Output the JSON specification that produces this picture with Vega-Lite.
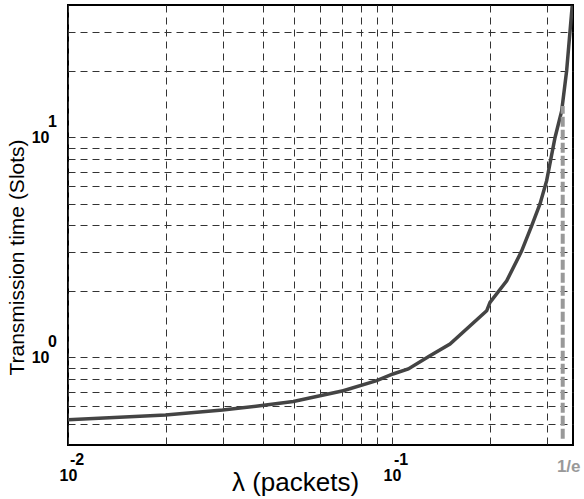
{
  "$schema": "https://vega.github.io/schema/vega-lite/v6.json",
  "autosize": "none",
  "width": 505,
  "height": 440,
  "padding": {"left": 68, "top": 5, "right": 11, "bottom": 54},
  "config": {
    "view": {"stroke": "#000000", "strokeWidth": 2},
    "font": "Liberation Sans",
    "axis": {
      "domain": false,
      "ticks": false,
      "tickSize": 0,
      "grid": true,
      "gridColor": "#333333",
      "gridOpacity": 1,
      "gridWidth": 1,
      "gridDash": [7, 5],
      "labelFont": "Liberation Sans",
      "labelFontWeight": "bold",
      "labelFontSize": 16,
      "labelColor": "#000000",
      "labelOverlap": false,
      "labelFlush": false,
      "labelBound": false,
      "titleFont": "Liberation Sans",
      "titleFontWeight": "normal",
      "titleColor": "#000000"
    }
  },
  "datasets": {
    "curve": [
      {"lambda": 0.01, "t": 0.521},
      {"lambda": 0.02, "t": 0.547},
      {"lambda": 0.03, "t": 0.577},
      {"lambda": 0.0391, "t": 0.603},
      {"lambda": 0.0496, "t": 0.631},
      {"lambda": 0.0707, "t": 0.706},
      {"lambda": 0.0897, "t": 0.784},
      {"lambda": 0.1007, "t": 0.841},
      {"lambda": 0.1123, "t": 0.886},
      {"lambda": 0.131, "t": 1.018},
      {"lambda": 0.151, "t": 1.15},
      {"lambda": 0.196, "t": 1.63},
      {"lambda": 0.2007, "t": 1.78},
      {"lambda": 0.226, "t": 2.23},
      {"lambda": 0.2514, "t": 3.05},
      {"lambda": 0.27, "t": 3.97},
      {"lambda": 0.2863, "t": 4.99},
      {"lambda": 0.3002, "t": 6.36},
      {"lambda": 0.3185, "t": 9.97},
      {"lambda": 0.334, "t": 13.2},
      {"lambda": 0.346, "t": 20.1},
      {"lambda": 0.36, "t": 39.7}
    ],
    "limit": [{"lambda": 0.3365, "t0": 0.427, "t1": 13.9, "label": "1/e", "tb": 0.4}],
    "xexp": [{"lambda": 0.01, "t": 0.4, "exp": "-2"}, {"lambda": 0.1, "t": 0.4, "exp": "-1"}],
    "yexp": [{"lambda": 0.01, "t": 1, "exp": "0"}, {"lambda": 0.01, "t": 10, "exp": "1"}]
  },
  "layer": [
    {
      "data": {"name": "curve"},
      "mark": {"type": "line", "color": "#444444", "strokeWidth": 3.5, "clip": true},
      "encoding": {
        "x": {
          "field": "lambda",
          "type": "quantitative",
          "scale": {"type": "log", "domain": [0.01, 0.362], "nice": false, "zero": false},
          "axis": {
            "values": [0.01, 0.02, 0.03, 0.04, 0.05, 0.06, 0.07, 0.08, 0.09, 0.1, 0.2, 0.3],
            "labelExpr": "(datum.value == 0.01 || datum.value == 0.1) ? '10' : ''",
            "labelDx": -5,
            "labelPadding": 30,
            "labelBaseline": "middle",
            "labelAlign": "center",
            "labelFontSize": 16,
            "title": "λ (packets)",
            "titleFontSize": 26,
            "titleX": 227,
            "titleY": 37,
            "titleBaseline": "middle",
            "titleAlign": "center"
          }
        },
        "y": {
          "field": "t",
          "type": "quantitative",
          "scale": {"type": "log", "domain": [0.4, 40], "nice": false, "zero": false},
          "axis": {
            "values": [0.5, 0.6, 0.7, 0.8, 0.9, 1, 2, 3, 4, 5, 6, 7, 8, 9, 10, 20, 30],
            "labelExpr": "(datum.value == 1 || datum.value == 10) ? '10' : ''",
            "labelPadding": 19,
            "labelAlign": "right",
            "labelBaseline": "middle",
            "labelDy": 2,
            "labelFontSize": 16,
            "title": "Transmission time (Slots)",
            "titleFontSize": 21,
            "titleAngle": -90,
            "titleX": -51,
            "titleY": 252,
            "titleAlign": "center",
            "titleBaseline": "middle"
          }
        }
      }
    },
    {
      "data": {"name": "limit"},
      "mark": {"type": "rule", "color": "#999999", "strokeWidth": 4, "strokeDash": [10, 3]},
      "encoding": {
        "x": {"field": "lambda", "type": "quantitative"},
        "y": {"field": "t0", "type": "quantitative"},
        "y2": {"field": "t1"}
      }
    },
    {
      "data": {"name": "limit"},
      "mark": {"type": "text", "color": "#999999", "fontWeight": "bold", "fontSize": 17, "font": "Liberation Sans", "align": "center", "baseline": "middle", "dx": 6, "dy": 22},
      "encoding": {
        "x": {"field": "lambda", "type": "quantitative"},
        "y": {"field": "tb", "type": "quantitative"},
        "text": {"field": "label"}
      }
    },
    {
      "data": {"name": "xexp"},
      "mark": {"type": "text", "color": "#000000", "fontWeight": "bold", "fontSize": 16, "font": "Liberation Sans", "align": "left", "baseline": "middle", "dx": 2, "dy": 15},
      "encoding": {
        "x": {"field": "lambda", "type": "quantitative"},
        "y": {"field": "t", "type": "quantitative"},
        "text": {"field": "exp"}
      }
    },
    {
      "data": {"name": "yexp"},
      "mark": {"type": "text", "color": "#000000", "fontWeight": "bold", "fontSize": 16, "font": "Liberation Sans", "align": "left", "baseline": "middle", "dx": -20, "dy": -15},
      "encoding": {
        "x": {"field": "lambda", "type": "quantitative"},
        "y": {"field": "t", "type": "quantitative"},
        "text": {"field": "exp"}
      }
    }
  ]
}
